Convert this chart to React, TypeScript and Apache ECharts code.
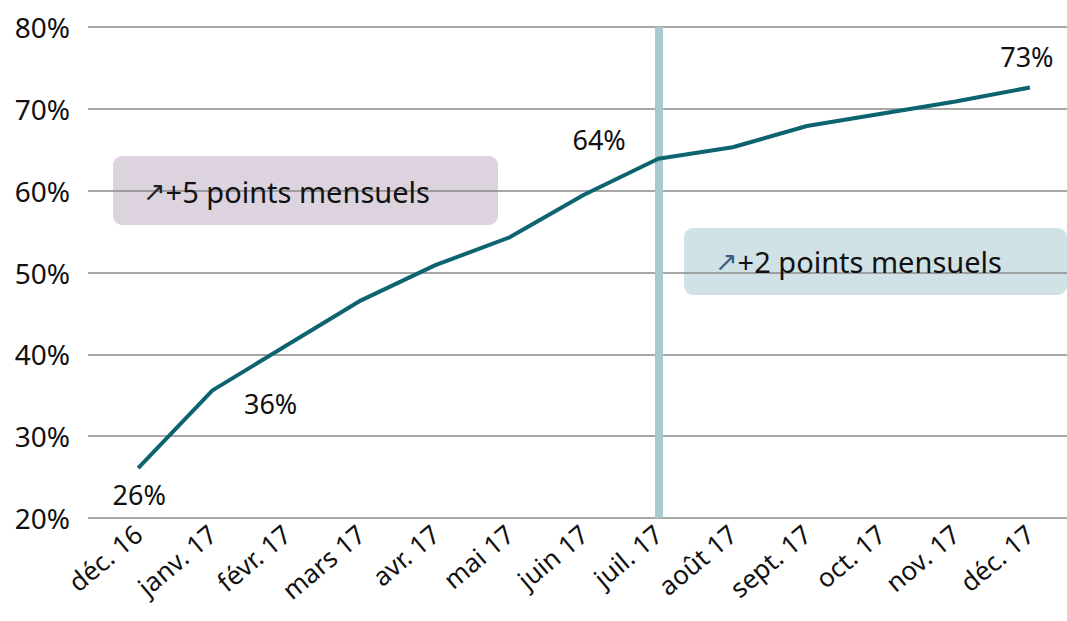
import React, { useEffect, useRef } from "react";
import * as echarts from "echarts";

const categories = [
  "déc. 16", "janv. 17", "févr. 17", "mars 17", "avr. 17", "mai 17", "juin 17",
  "juil. 17", "août 17", "sept. 17", "oct. 17", "nov. 17", "déc. 17",
];
const values = [26.1, 35.6, 41.1, 46.6, 50.9, 54.3, 59.5, 63.9, 65.3, 67.9, 69.4, 70.9, 72.6];
const labelTexts: Record<number, string> = { 0: "26%", 1: "36%", 7: "64%", 12: "73%" };
const yTicks = { min: 20, max: 80, interval: 10 };
const annotations = ["+5 points mensuels", "+2 points mensuels"];
const markerCategory = "juil. 17";

const FONT = "'Noto Sans', sans-serif";

export default function App() {
  const ref = useRef<HTMLDivElement>(null);
  useEffect(() => {
    if (!ref.current) return;
    const chart = echarts.init(ref.current, null, { renderer: "svg" });
    const labelCfg: Record<number, any> = {
      0: { position: "bottom", distance: 6, offset: [1, 6] },
      1: { position: "right", distance: 5, offset: [26, 13] },
      7: { position: "left", distance: 5, offset: [-27, -19] },
      12: { position: "top", distance: 5, offset: [-3, -12] },
    };
    const data = values.map((v, i) =>
      labelTexts[i]
        ? {
            value: v,
            label: {
              show: true,
              formatter: labelTexts[i],
              color: "#111",
              fontSize: 27,
              fontFamily: FONT,
              ...labelCfg[i],
            },
          }
        : v
    );
    chart.setOption({
      animation: false,
      backgroundColor: "#fff",
      grid: [
        { left: 88, right: 0, top: 27, bottom: 103 },
        { left: 101, width: 972.8, top: 27, bottom: 103 },
      ],
      xAxis: [
        { type: "category", gridIndex: 0, data: categories, show: false },
        {
          type: "category",
          gridIndex: 1,
          data: categories,
          boundaryGap: true,
          axisLine: { show: false },
          axisTick: { show: false },
          axisLabel: {
            rotate: 40,
            margin: 12,
            color: "#111",
            fontSize: 26,
            fontFamily: FONT,
            interval: 0,
          },
        },
      ],
      yAxis: [
        {
          type: "value",
          gridIndex: 0,
          min: yTicks.min,
          max: yTicks.max,
          interval: yTicks.interval,
          axisLine: { show: false },
          axisTick: { show: false },
          axisLabel: {
            formatter: "{value}%",
            color: "#111",
            fontSize: 28,
            fontFamily: FONT,
            margin: 18,
          },
          splitLine: { lineStyle: { color: "#8a8a8a", width: 1.5 } },
        },
        {
          type: "value",
          gridIndex: 1,
          min: yTicks.min,
          max: yTicks.max,
          interval: yTicks.interval,
          show: false,
          splitLine: { show: false },
        },
      ],
      graphic: [
        {
          type: "rect",
          z: -10,
          shape: { x: 113, y: 156, width: 385, height: 69, r: 9 },
          style: { fill: "#dcd3de" },
        },
        {
          type: "rect",
          z: -10,
          shape: { x: 684, y: 228, width: 383, height: 67, r: 9 },
          style: { fill: "#d0e2e5" },
        },
        {
          type: "text",
          z: 10,
          x: 143,
          y: 191,
          style: {
            text: "{a|↗}" + annotations[0],
            fill: "#111",
            fontSize: 29,
            fontFamily: FONT,
            verticalAlign: "middle",
            rich: { a: { fill: "#222", fontSize: 27, fontFamily: "'DejaVu Sans', sans-serif" } },
          },
        },
        {
          type: "text",
          z: 10,
          x: 715,
          y: 261,
          style: {
            text: "{a|↗}" + annotations[1],
            fill: "#111",
            fontSize: 29,
            fontFamily: FONT,
            verticalAlign: "middle",
            rich: { a: { fill: "#3b5f86", fontSize: 27, fontFamily: "'DejaVu Sans', sans-serif" } },
          },
        },
      ],
      series: [
        {
          type: "line",
          xAxisIndex: 1,
          yAxisIndex: 1,
          data,
          symbol: "circle",
          symbolSize: 1,
          showSymbol: true,
          itemStyle: { color: "rgba(0,0,0,0)" },
          lineStyle: { color: "#0d6470", width: 4 },
          z: 5,
          markLine: {
            silent: true,
            symbol: "none",
            label: { show: false },
            lineStyle: { color: "#a8c9cd", width: 8, type: "solid" },
            data: [{ xAxis: markerCategory }],
            z: 3,
          },
        },
      ],
    });
    return () => chart.dispose();
  }, []);
  return (
    <div
      ref={ref}
      style={{ position: "fixed", left: 0, top: 0, width: 1067, height: 621 }}
    />
  );
}
